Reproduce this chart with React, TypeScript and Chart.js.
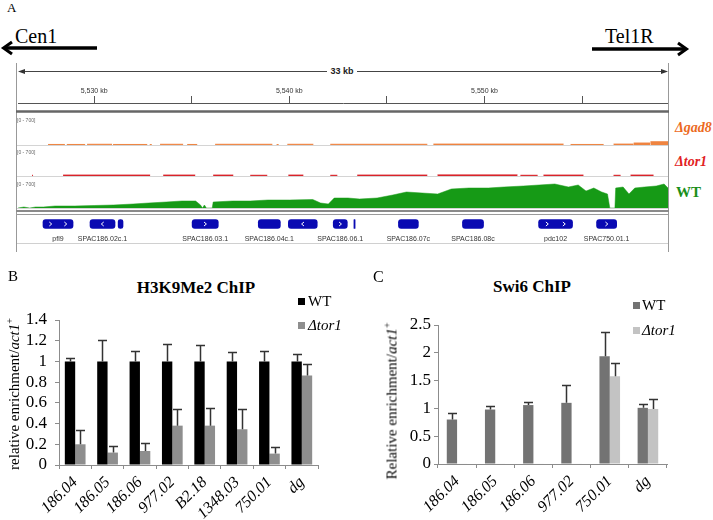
import React, { useEffect, useRef } from 'react';
import { Chart, registerables } from 'chart.js';

Chart.register(...registerables);

const SERIF = '"Liberation Serif", "Times New Roman", serif';
const SANS = '"Liberation Sans", Arial, sans-serif';
const NARROW = '"Liberation Sans Narrow", "Arial Narrow", "Liberation Sans", sans-serif';

// ---------------- Panel A data (genome browser) ----------------
const REGION_START_KB = 5526.1;
const REGION_END_KB = 5559.4;
const rulerTicksKb = [5530, 5535, 5540, 5545, 5550, 5555];
const TRACK_MAX = 700;

// WT coverage
const wtPosKb = [5526.1, 5526.4, 5526.7, 5527.0, 5527.4, 5528.0, 5529.0, 5530.0, 5531.0, 5532.0, 5532.8, 5533.7, 5534.5, 5535.2, 5535.45, 5535.55, 5535.65, 5535.75, 5536.05, 5536.1, 5537.1, 5538.0, 5538.9, 5540.0, 5541.2, 5541.6, 5542.0, 5542.3, 5543.0, 5543.6, 5544.5, 5545.3, 5546.0, 5546.8, 5547.6, 5548.3, 5549.2, 5550.2, 5551.0, 5552.0, 5552.8, 5553.6, 5554.3, 5554.8, 5555.2, 5555.6, 5556.0, 5556.3, 5556.42, 5556.68, 5556.72, 5557.1, 5557.4, 5557.7, 5558.2, 5558.8, 5559.2, 5559.4];
const wtCoverage = [0, 28, 0, 28, 28, 56, 56, 70, 84, 112, 140, 168, 196, 196, 84, 0, 84, 0, 0, 168, 196, 196, 224, 224, 238, 140, 112, 280, 280, 252, 280, 364, 448, 420, 392, 532, 560, 560, 588, 616, 644, 672, 588, 644, 476, 560, 448, 392, 0, 0, 560, 588, 392, 560, 588, 616, 672, 560];

// Δgad8 coverage segments
const gad8StartKb = [5527.64, 5528.6, 5529.64, 5530.97, 5532.85, 5533.38, 5534.77, 5536.2, 5539.35, 5539.9, 5542.1, 5547.38, 5554.41, 5556.61, 5557.64, 5558.5];
const gad8EndKb = [5528.5, 5529.54, 5530.92, 5532.72, 5532.95, 5534.56, 5535.28, 5539.13, 5539.45, 5541.23, 5547.07, 5554.05, 5556.1, 5557.64, 5558.5, 5559.4];
const gad8Level = [15, 15, 20, 15, 12, 20, 15, 20, 12, 20, 20, 25, 15, 25, 55, 90];

// Δtor1 coverage segments
const tor1StartKb = [5526.82, 5528.41, 5533.54, 5536.1, 5538.0, 5539.95, 5542.1, 5543.48, 5547.59, 5551.84, 5553.02, 5556.61, 5557.48];
const tor1EndKb = [5526.87, 5532.87, 5535.18, 5537.13, 5538.87, 5540.72, 5542.46, 5547.07, 5551.69, 5552.72, 5555.07, 5556.97, 5558.66];
const tor1Level = [20, 25, 25, 25, 20, 25, 20, 25, 30, 20, 25, 20, 25];

// Genes
const geneNames = ['pfl9', 'SPAC186.02c.1', 'SPAC186.03.1', 'SPAC186.04c.1', 'SPAC186.06.1', 'SPAC186.07c', 'SPAC186.08c', 'pdc102', 'SPAC750.01.1'];
const geneStrand = ['+', '-', '+', '-', '+', '-', '-', '+', '+'];
const exonStartKb = [5527.38, 5529.79, 5531.23, 5535.02, 5538.41, 5539.95, 5542.25, 5543.31, 5545.59, 5548.87, 5552.77, 5555.74];
const exonEndKb = [5528.92, 5531.07, 5531.48, 5536.36, 5539.54, 5541.43, 5542.97, 5543.37, 5546.61, 5549.95, 5554.51, 5556.77];
const exonGene = [0, 1, 1, 2, 3, 3, 4, 4, 5, 6, 7, 8];
const exonChevrons = [2, 1, 0, 1, 0, 1, 1, 0, 0, 0, 2, 1];

// ---------------- Panel B data ----------------
const bCategories = ['186.04', '186.05', '186.06', '977.02', 'B2.18', '1348.03', '750.01', 'dg'];
const bWT = [1, 1, 1, 1, 1, 1, 1, 1];
const bWTErr = [0.03, 0.21, 0.1, 0.17, 0.16, 0.09, 0.1, 0.07];
const bTor1 = [0.2, 0.12, 0.135, 0.38, 0.38, 0.345, 0.11, 0.865];
const bTor1Err = [0.14, 0.06, 0.075, 0.16, 0.17, 0.2, 0.065, 0.11];
const bYMax = 1.4;
const bYStep = 0.2;

// ---------------- Panel C data ----------------
const cCategories = ['186.04', '186.05', '186.06', '977.02', '750.01', 'dg'];
const cWT = [0.8, 0.98, 1.06, 1.1, 1.94, 1.01];
const cWTErr = [0.12, 0.06, 0.06, 0.32, 0.43, 0.07];
const cTor1 = [0.01, 0.01, 0.01, 0.01, 1.58, 0.99];
const cTor1Err = [0, 0, 0, 0, 0.23, 0.18];
const cYMax = 2.5;
const cYStep = 0.5;

// ---------------- plugins ----------------
const errorBarPlugin = {
  id: 'errorBars',
  afterDatasetsDraw(chart: any, _args: any, opts: any) {
    const ctx = chart.ctx;
    chart.data.datasets.forEach((ds: any, i: number) => {
      const errs = ds.errorPlus;
      if (!errs) return;
      const meta = chart.getDatasetMeta(i);
      const yScale = chart.scales[meta.yAxisID];
      meta.data.forEach((bar: any, j: number) => {
        const e = errs[j];
        if (!e) return;
        const v = ds.data[j];
        const x = Math.round(bar.x) + 0.5;
        const y0 = yScale.getPixelForValue(v);
        const y1 = Math.round(yScale.getPixelForValue(v + e)) + 0.5;
        const half = (opts.cap || 9) / 2;
        ctx.save();
        ctx.strokeStyle = opts.color || '#333';
        ctx.lineWidth = opts.width || 1.5;
        ctx.beginPath();
        ctx.moveTo(x, y0);
        ctx.lineTo(x, y1);
        ctx.moveTo(x - half, y1);
        ctx.lineTo(x + half, y1);
        ctx.stroke();
        ctx.restore();
      });
    });
  },
};

const geneLabelPlugin = {
  id: 'geneLabels',
  afterDatasetsDraw(chart: any) {
    const ctx = chart.ctx;
    const meta = chart.getDatasetMeta(0);
    const seen: Record<number, boolean> = {};
    meta.data.forEach((bar: any, j: number) => {
      const p = bar.getProps(['x', 'y', 'base', 'height'], true);
      const left = Math.min(p.x, p.base);
      const right = Math.max(p.x, p.base);
      const g = exonGene[j];
      const n = exonChevrons[j];
      const dir = geneStrand[g] === '+' ? 1 : -1;
      ctx.save();
      ctx.strokeStyle = '#ffffff';
      ctx.lineWidth = 1;
      for (let k = 0; k < n; k++) {
        const cx = left + ((k + 0.5) / n) * (right - left);
        ctx.beginPath();
        ctx.moveTo(cx - dir * 1.2, p.y - 2);
        ctx.lineTo(cx + dir * 1.2, p.y);
        ctx.lineTo(cx - dir * 1.2, p.y + 2);
        ctx.stroke();
      }
      ctx.restore();
      if (!seen[g]) {
        seen[g] = true;
        ctx.save();
        ctx.fillStyle = '#333';
        ctx.font = `7px ${SANS}`;
        ctx.textAlign = 'center';
        ctx.textBaseline = 'middle';
        ctx.fillText(geneNames[g], (left + right) / 2, p.y + 15);
        ctx.restore();
      }
    });
  },
};

const baseOpts = {
  responsive: false,
  animation: false as const,
  events: [] as any[],
  devicePixelRatio: 1,
};

function segmentsToPoints(starts: number[], ends: number[], levels: number[]) {
  const pts: any[] = [];
  starts.forEach((s, i) => {
    pts.push({ x: s, y: levels[i] });
    pts.push({ x: ends[i], y: levels[i] });
    pts.push({ x: ends[i], y: null });
  });
  return pts;
}

function trackConfig(points: any[], color: string, lineWidth: number): any {
  return {
    type: 'line',
    data: {
      datasets: [
        {
          data: points,
          borderColor: color,
          backgroundColor: color,
          borderWidth: lineWidth,
          fill: 'origin',
          pointRadius: 0,
          tension: 0,
          spanGaps: false,
        },
      ],
    },
    options: {
      ...baseOpts,
      layout: { padding: 0 },
      plugins: { legend: { display: false }, tooltip: { enabled: false } },
      scales: {
        x: { type: 'linear', min: REGION_START_KB, max: REGION_END_KB, display: false },
        y: { min: 0, max: TRACK_MAX, display: false },
      },
    },
  };
}

function rulerConfig(): any {
  return {
    type: 'line',
    data: { datasets: [] },
    options: {
      ...baseOpts,
      layout: { padding: 0 },
      plugins: { legend: { display: false }, tooltip: { enabled: false } },
      scales: {
        x: {
          type: 'linear',
          position: 'top',
          min: REGION_START_KB,
          max: REGION_END_KB,
          afterBuildTicks: (s: any) => {
            s.ticks = rulerTicksKb.map((v) => ({ value: v }));
          },
          ticks: {
            autoSkip: false,
            maxRotation: 0,
            padding: 1,
            font: { family: SANS, size: 7 },
            color: '#333',
            callback: (v: any) => (Number(v) % 10 === 0 ? `${Number(v).toLocaleString('en-US')} kb` : ''),
          },
          grid: { drawOnChartArea: false, tickLength: 7, color: '#555' },
          border: { color: '#555' },
          afterFit: (s: any) => {
            s.height = 23;
          },
        },
        y: { display: false },
      },
    },
  };
}

function geneConfig(): any {
  return {
    type: 'bar',
    data: {
      labels: ['genes'],
      datasets: [
        {
          data: exonStartKb.map((s, i) => ({ x: [s, exonEndKb[i]], y: 'genes' })),
          backgroundColor: '#0a0ab2',
          borderRadius: 3,
          borderSkipped: false,
          barThickness: 9,
        },
      ],
    },
    options: {
      ...baseOpts,
      indexAxis: 'y',
      layout: { padding: 0 },
      plugins: { legend: { display: false }, tooltip: { enabled: false } },
      scales: {
        x: { type: 'linear', min: REGION_START_KB, max: REGION_END_KB, display: false },
        y: { type: 'category', display: false },
      },
    },
    plugins: [geneLabelPlugin],
  };
}

function fmt(v: any) {
  return String(Number(Number(v).toFixed(2)));
}

function barConfig(p: {
  labels: string[];
  wt: number[];
  wtErr: number[];
  tor: number[];
  torErr: number[];
  wtColor: string;
  torColor: string;
  yMax: number;
  yStep: number;
  yWidth: number;
  xHeight: number;
  padTop: number;
  padRight: number;
  tickPad: number;
  catPct: number;
}): any {
  const axisColor = '#8c8c8c';
  return {
    type: 'bar',
    data: {
      labels: p.labels,
      datasets: [
        { label: 'WT', data: p.wt, backgroundColor: p.wtColor, errorPlus: p.wtErr, categoryPercentage: p.catPct, barPercentage: 1 },
        { label: 'Δtor1', data: p.tor, backgroundColor: p.torColor, errorPlus: p.torErr, categoryPercentage: p.catPct, barPercentage: 1 },
      ],
    },
    options: {
      ...baseOpts,
      layout: { padding: { top: p.padTop, right: p.padRight, left: 0, bottom: 0 } },
      plugins: {
        legend: { display: false },
        tooltip: { enabled: false },
        errorBars: { color: '#333', width: 1.5, cap: 9 },
      },
      scales: {
        x: {
          grid: { offset: true, drawOnChartArea: false, tickLength: 4, color: axisColor },
          border: { color: axisColor },
          ticks: {
            autoSkip: false,
            minRotation: 45,
            maxRotation: 45,
            padding: 4,
            color: '#000',
            font: { family: SERIF, size: 16, style: 'italic' },
          },
          afterFit: (s: any) => {
            s.height = p.xHeight;
          },
        },
        y: {
          min: 0,
          max: p.yMax,
          ticks: {
            stepSize: p.yStep,
            autoSkip: false,
            padding: p.tickPad,
            color: '#000',
            font: { family: SERIF, size: 17 },
            callback: fmt,
          },
          grid: { drawOnChartArea: false, tickLength: 4, color: axisColor },
          border: { color: axisColor },
          afterFit: (s: any) => {
            s.width = p.yWidth;
          },
        },
      },
    },
    plugins: [errorBarPlugin],
  };
}

// ---------------- HTML helpers ----------------
type TProps = {
  x: number;
  y: number;
  size: number;
  family?: string;
  weight?: any;
  fstyle?: string;
  color?: string;
  align?: 'left' | 'center';
  children: any;
};
const T = ({ x, y, size, family = SERIF, weight = 'normal', fstyle = 'normal', color = '#000', align = 'left', children }: TProps) => {
  const st: any = {
    position: 'absolute',
    top: y - 0.84 * size,
    left: x,
    fontFamily: family,
    fontSize: size,
    fontWeight: weight,
    fontStyle: fstyle,
    color,
    lineHeight: 1,
    whiteSpace: 'nowrap',
  };
  if (align === 'center') st.transform = 'translateX(-50%)';
  return <div style={st}>{children}</div>;
};

const YTitle = ({ cx, cy, text }: { cx: number; cy: number; text: string }) => (
  <div
    style={{
      position: 'absolute',
      left: cx,
      top: cy,
      transform: 'translate(-50%,-50%) rotate(-90deg)',
      fontFamily: SERIF,
      fontSize: 15,
      whiteSpace: 'nowrap',
      lineHeight: 1,
    }}
  >
    {text}
    <i>act1</i>
    <span style={{ fontSize: 10, position: 'relative', top: -6 }}>+</span>
  </div>
);

const Sq = ({ x, y, color }: { x: number; y: number; color: string }) => (
  <div style={{ position: 'absolute', left: x, top: y, width: 7, height: 7, background: color }} />
);

export default function App() {
  const rulerRef = useRef<HTMLCanvasElement>(null);
  const gad8Ref = useRef<HTMLCanvasElement>(null);
  const tor1Ref = useRef<HTMLCanvasElement>(null);
  const wtRef = useRef<HTMLCanvasElement>(null);
  const geneRef = useRef<HTMLCanvasElement>(null);
  const bRef = useRef<HTMLCanvasElement>(null);
  const cRef = useRef<HTMLCanvasElement>(null);

  useEffect(() => {
    const charts: Chart[] = [];
    charts.push(new Chart(rulerRef.current!, rulerConfig()));
    charts.push(new Chart(gad8Ref.current!, trackConfig(segmentsToPoints(gad8StartKb, gad8EndKb, gad8Level), '#ef8440', 1)));
    charts.push(new Chart(tor1Ref.current!, trackConfig(segmentsToPoints(tor1StartKb, tor1EndKb, tor1Level), '#d9242a', 1)));
    charts.push(
      new Chart(wtRef.current!, trackConfig(wtPosKb.map((x, i) => ({ x, y: wtCoverage[i] })), '#169a16', 0.5))
    );
    charts.push(new Chart(geneRef.current!, geneConfig()));
    charts.push(
      new Chart(
        bRef.current!,
        barConfig({
          labels: bCategories,
          wt: bWT,
          wtErr: bWTErr,
          tor: bTor1,
          torErr: bTor1Err,
          wtColor: '#000000',
          torColor: '#8e8e8e',
          yMax: bYMax,
          yStep: bYStep,
          yWidth: 59,
          xHeight: 55,
          padTop: 20,
          padRight: 12,
          tickPad: 8,
          catPct: 0.64,
        })
      )
    );
    charts.push(
      new Chart(
        cRef.current!,
        barConfig({
          labels: cCategories,
          wt: cWT,
          wtErr: cWTErr,
          tor: cTor1,
          torErr: cTor1Err,
          wtColor: '#737373',
          torColor: '#c3c3c3',
          yMax: cYMax,
          yStep: cYStep,
          yWidth: 58,
          xHeight: 56,
          padTop: 25,
          padRight: 12,
          tickPad: 3,
          catPct: 0.54,
        })
      )
    );
    return () => charts.forEach((c) => c.destroy());
  }, []);

  const abs = (l: number, t: number): any => ({ position: 'absolute', left: l, top: t });

  return (
    <div style={{ position: 'absolute', left: 0, top: 0, width: 713, height: 520, overflow: 'hidden', background: '#fff' }}>
      <svg width={713} height={520} style={abs(0, 0)}>
        {/* Cen1 / Tel1R arrows */}
        <line x1={4} y1={48} x2={97} y2={48} stroke="#000" strokeWidth={3.5} />
        <polyline points="12,42 3.5,48 12,54" fill="none" stroke="#000" strokeWidth={3} />
        <line x1={592} y1={49} x2={686} y2={49} stroke="#000" strokeWidth={3.5} />
        <polyline points="678,43 686.5,49 678,55" fill="none" stroke="#000" strokeWidth={3} />
        {/* browser frame */}
        <line x1={16.5} y1={63} x2={16.5} y2={252} stroke="#999" strokeWidth={1} />
        <line x1={668.5} y1={63} x2={668.5} y2={252} stroke="#999" strokeWidth={1} />
        {/* 33 kb span line */}
        <line x1={20} y1={71.5} x2={327} y2={71.5} stroke="#444" strokeWidth={1} />
        <line x1={357} y1={71.5} x2={666} y2={71.5} stroke="#444" strokeWidth={1} />
        <polygon points="18,71.5 25,69 25,74" fill="#333" />
        <polygon points="668,71.5 661,69 661,74" fill="#333" />
        {/* ruler box bottom */}
        <line x1={16} y1={111.5} x2={669} y2={111.5} stroke="#666" strokeWidth={2.5} />
        {/* track baselines */}
        <line x1={17} y1={145.5} x2={668} y2={145.5} stroke="#d4d4d4" strokeWidth={1} />
        <line x1={17} y1={176.5} x2={668} y2={176.5} stroke="#d4d4d4" strokeWidth={1} />
        <line x1={17} y1={208.5} x2={668} y2={208.5} stroke="#d4d4d4" strokeWidth={1} />
        {/* separator between data and gene tracks */}
        <line x1={16} y1={211} x2={669} y2={211} stroke="#8a8a8a" strokeWidth={2} />
        <line x1={16} y1={214.5} x2={669} y2={214.5} stroke="#9a9a9a" strokeWidth={1} />
        {/* gene track bottom */}
        <line x1={17} y1={243.5} x2={668} y2={243.5} stroke="#d0d0d0" strokeWidth={1} />
      </svg>

      <canvas ref={rulerRef} width={650} height={26} style={abs(18, 80)} />
      <canvas ref={gad8Ref} width={650} height={25} style={abs(18, 120)} />
      <canvas ref={tor1Ref} width={650} height={25} style={abs(18, 151)} />
      <canvas ref={wtRef} width={650} height={25} style={abs(18, 183)} />
      <canvas ref={geneRef} width={650} height={36} style={abs(18, 206)} />
      <canvas ref={bRef} width={330} height={220} style={abs(0, 300)} />
      <canvas ref={cRef} width={299} height={220} style={abs(380, 300)} />

      {/* Panel A text */}
      <T x={7} y={12} size={13}>A</T>
      <T x={15} y={43} size={20}>Cen1</T>
      <T x={605} y={43} size={20}>Tel1R</T>
      <T x={342} y={75} size={9} family={NARROW} weight="bold" align="center" color="#222">33 kb</T>
      <T x={17} y={122} size={5} family={SANS} color="#666">[0 - 700]</T>
      <T x={17} y={154} size={5} family={SANS} color="#666">[0 - 700]</T>
      <T x={17} y={186} size={5} family={SANS} color="#666">[0 - 700]</T>
      <T x={675} y={133} size={14} weight="bold" fstyle="italic" color="#ec6a1e">Δgad8</T>
      <T x={675} y={167} size={14} weight="bold" fstyle="italic" color="#e2231f">Δtor1</T>
      <T x={676} y={198} size={15} weight="bold" color="#1a8f1a">WT</T>

      {/* Panel B text */}
      <T x={8} y={282} size={15}>B</T>
      <T x={196} y={293} size={17} weight="bold" align="center">H3K9Me2 ChIP</T>
      <Sq x={298} y={298} color="#000000" />
      <T x={308} y={307} size={15}>WT</T>
      <Sq x={298} y={322} color="#8e8e8e" />
      <T x={308} y={331} size={15} fstyle="italic">Δtor1</T>
      <YTitle cx={14} cy={394} text="relative enrichment/" />

      {/* Panel C text */}
      <T x={373} y={282} size={16}>C</T>
      <T x={532} y={292} size={17} weight="bold" align="center">Swi6 ChIP</T>
      <Sq x={633} y={302} color="#737373" />
      <T x={642} y={311} size={15}>WT</T>
      <Sq x={633} y={327} color="#c3c3c3" />
      <T x={642} y={336} size={15} fstyle="italic">Δtor1</T>
      <YTitle cx={392} cy={401} text="Relative enrichment/" />
    </div>
  );
}
